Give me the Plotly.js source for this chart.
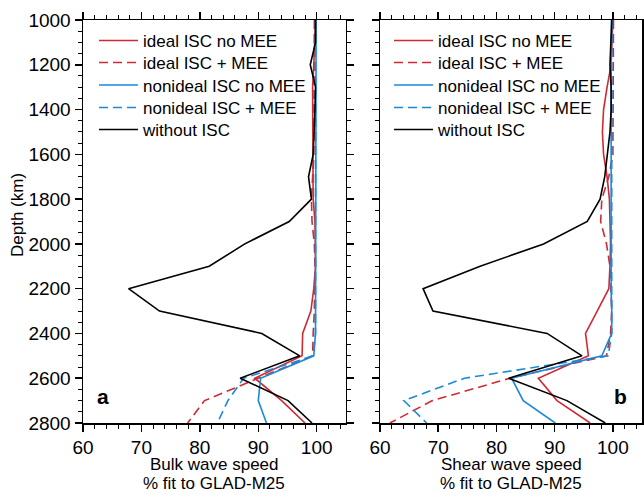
<!DOCTYPE html>
<html>
<head>
<meta charset="utf-8">
<script src="https://cdn.plot.ly/plotly-3.0.1.min.js"></script>
<style>html,body{margin:0;padding:0;background:#fff;}#chart{width:644px;height:494px;}</style>
</head>
<body>
<div id="chart"></div>
<script>
// Depth levels (km)
const depth = [1000,1100,1200,1300,1400,1500,1600,1700,1800,1900,2000,2100,2200,2300,2400,2500,2600,2700,2800];

const seriesNames = ['ideal ISC no MEE','ideal ISC + MEE','nonideal ISC no MEE','nonideal ISC + MEE','without ISC'];

// Axis titles
const yTitle = 'Depth (km)';
const xTitleA = ['Bulk wave speed', '% fit to GLAD-M25'];
const xTitleB = ['Shear wave speed', '% fit to GLAD-M25'];

// Panel a: Bulk wave speed, % fit to GLAD-M25
const bulkIdealNoMEE    = [99.8,99.7,99.5,99.3,99.3,99.4,99.4,99.4,99.4,99.7,99.8,99.8,99.5,99.0,97.6,97.5,89.4,94.0,98.0];
const bulkIdealMEE      = [99.6,99.6,99.6,99.6,99.6,99.6,99.5,99.3,99.1,99.2,99.6,99.7,99.7,99.6,99.4,99.3,90.0,80.8,77.9];
const bulkNonidealNoMEE = [99.9,99.9,99.9,99.9,99.9,99.9,99.9,99.9,99.9,99.9,99.9,99.9,99.9,99.9,99.8,99.5,90.4,90.0,91.4];
const bulkNonidealMEE   = [99.8,99.8,99.8,99.8,99.8,99.8,99.8,99.8,99.8,99.8,99.8,99.8,99.8,99.8,99.8,99.4,87.5,84.8,83.0];
const bulkWithout       = [99.8,99.8,98.9,99.8,99.7,99.5,99.4,98.6,99.1,95.3,87.7,81.6,67.8,73.1,90.6,97.1,86.9,95.1,99.2];

// Panel b: Shear wave speed, % fit to GLAD-M25
const shearIdealNoMEE    = [100.0,99.9,99.7,99.0,98.4,98.2,98.4,99.0,99.4,99.5,99.6,99.5,99.3,97.3,95.3,95.8,87.2,90.4,96.1];
const shearIdealMEE      = [100.1,100.1,100.1,100.1,100.1,100.1,100.0,99.3,98.1,97.9,98.9,99.5,99.7,99.8,99.6,98.9,82.3,69.0,61.7];
const shearNonidealNoMEE = [99.8,99.7,99.7,99.7,99.7,99.6,99.6,99.6,99.6,99.6,99.7,99.7,99.7,99.8,99.8,98.1,82.6,84.6,90.1];
const shearNonidealMEE   = [99.8,99.8,99.8,99.8,99.8,99.7,99.7,99.7,99.7,99.7,99.8,99.8,99.8,99.8,99.8,99.2,74.5,64.1,68.0];
const shearWithout       = [99.8,99.7,99.5,99.7,99.7,99.5,99.1,98.6,97.8,95.6,88.1,77.2,67.4,69.1,88.7,94.7,82.1,92.1,98.7];

const RED = '#cf2a33', BLUE = '#1a8ad8', BLACK = '#000000';
const DASH = '9px,5px';
const styles = [
  {color: RED, dash: 'solid'},
  {color: RED, dash: DASH},
  {color: BLUE, dash: 'solid'},
  {color: BLUE, dash: DASH},
  {color: BLACK, dash: 'solid'}
];

const bulk = [bulkIdealNoMEE, bulkIdealMEE, bulkNonidealNoMEE, bulkNonidealMEE, bulkWithout];
const shear = [shearIdealNoMEE, shearIdealMEE, shearNonidealNoMEE, shearNonidealMEE, shearWithout];

const FONT = 'Liberation Sans, Arial, Helvetica, sans-serif';
const M = {l: 83, r: 2, t: 20, b: 71};
const W = 644, H = 494;
const PW = W - M.l - M.r, PH = H - M.t - M.b;
const px2x = p => (p - M.l) / PW;
const py2y = p => (H - M.b - p) / PH;

// legend row centres (pixels from top) and left edges
const rowY = [41, 63, 85.5, 108, 130];
const legLeftA = 94, legLeftB = 389;

const traces = [];
const legends = {};
let li = 0;
function legendKey() { li += 1; return li === 1 ? 'legend' : 'legend' + li; }

[[bulk, 'x', 'y', legLeftA], [shear, 'x2', 'y2', legLeftB]].forEach(([set, xa, ya, left]) => {
  set.forEach((vals, i) => {
    const key = legendKey();
    traces.push({x: vals, y: depth, type: 'scatter', mode: 'lines', name: seriesNames[i],
      xaxis: xa, yaxis: ya, legend: key,
      line: {color: styles[i].color, dash: styles[i].dash, width: 1.6}});
    legends[key] = {
      xref: 'paper', yref: 'paper', xanchor: 'left', yanchor: 'middle',
      x: px2x(left), y: py2y(rowY[i]),
      bgcolor: 'rgba(0,0,0,0)', borderwidth: 0, itemwidth: 39,
      font: {size: 17, color: '#000', family: FONT}
    };
  });
});

function xax(domain, anchor) {
  return {
    domain: domain, anchor: anchor, range: [60, 105], tick0: 0, dtick: 10,
    ticks: 'outside', ticklen: 7, tickwidth: 1.5, tickcolor: '#000',
    showline: true, linewidth: 1.5, linecolor: '#000', mirror: 'ticks',
    showgrid: false, zeroline: false, automargin: false,
    minor: {dtick: 2, ticks: 'outside', ticklen: 4, tickwidth: 1, tickcolor: '#000', showgrid: false},
    tickfont: {size: 19, color: '#000', family: FONT}
  };
}
function yax(anchor, labels) {
  return {
    anchor: anchor, range: [2800, 1000], tick0: 0, dtick: 200,
    ticks: 'outside', ticklen: 7, tickwidth: 1.5, tickcolor: '#000',
    showline: true, linewidth: 1.5, linecolor: '#000', mirror: 'ticks',
    showgrid: false, zeroline: false, showticklabels: labels, automargin: false,
    minor: {dtick: 50, ticks: 'outside', ticklen: 4, tickwidth: 1, tickcolor: '#000', showgrid: false},
    tickfont: {size: 19, color: '#000', family: FONT}
  };
}

const titleFont = {size: 17, color: '#000', family: FONT};
function xTitleAnn(xref, lines) {
  return lines.map((t, k) => ({
    text: t, xref: xref, yref: 'paper', x: 0.5, y: py2y(k === 0 ? 464.5 : 483.5),
    showarrow: false, xanchor: 'center', yanchor: 'middle', borderpad: 0, font: titleFont
  }));
}

const layout = Object.assign({
  width: W, height: H,
  margin: M,
  paper_bgcolor: '#fff', plot_bgcolor: '#fff',
  font: {family: FONT, color: '#000'},
  showlegend: true,
  xaxis: xax([0, px2x(345.9)], 'y'),
  yaxis: yax('x', true),
  xaxis2: xax([px2x(380), 1], 'y2'),
  yaxis2: yax('x2', false),
  annotations: [
    {text: '<b>a</b>', xref: 'x domain', yref: 'y domain', x: 0.075, y: 0.066, showarrow: false,
     font: {size: 21, color: '#000', family: FONT}, xanchor: 'center', yanchor: 'middle'},
    {text: '<b>b</b>', xref: 'x2 domain', yref: 'y2 domain', x: 0.917, y: 0.066, showarrow: false,
     font: {size: 21, color: '#000', family: FONT}, xanchor: 'center', yanchor: 'middle'},
    {text: yTitle, xref: 'paper', yref: 'paper', x: px2x(17), y: py2y(215), textangle: -90,
     showarrow: false, xanchor: 'center', yanchor: 'middle', font: titleFont}
  ].concat(xTitleAnn('x domain', xTitleA), xTitleAnn('x2 domain', xTitleB))
}, legends);

Plotly.newPlot('chart', traces, layout, {staticPlot: true, displayModeBar: false});
</script>
</body>
</html>
